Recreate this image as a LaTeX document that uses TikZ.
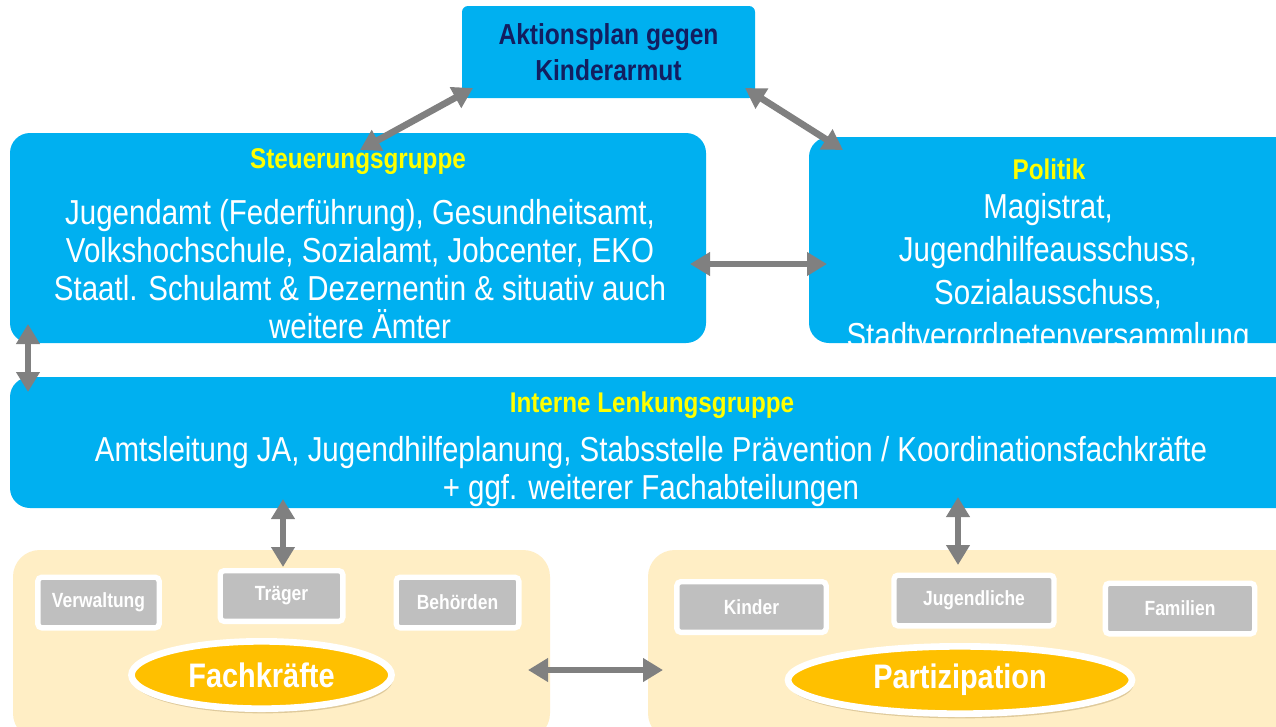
\documentclass[tikz,border=0pt]{standalone}
\usepackage{fontspec}
\setmainfont{Liberation Sans}[FakeStretch=0.85]
\usetikzlibrary{arrows.meta,shadows,shapes.geometric}
\definecolor{cblue}{RGB}{0,176,240}
\definecolor{cnavy}{RGB}{18,30,96}
\definecolor{cyel}{RGB}{255,255,0}
\definecolor{cpanel}{RGB}{255,238,197}
\definecolor{cgray}{RGB}{191,191,191}
\definecolor{corange}{RGB}{255,192,0}
\definecolor{carrow}{RGB}{128,128,128}
\definecolor{cshadow}{RGB}{150,120,60}
\begin{document}
\begin{tikzpicture}[x=0.75pt,y=-0.75pt,
  bluebox/.style={fill=cblue, draw=none, rounded corners=15pt, inner sep=0pt},
  panel/.style={fill=cpanel, draw=none, rounded corners=20pt, inner sep=0pt},
  graybox/.style={fill=cgray, draw=white, line width=4pt, rounded corners=3pt, minimum height=38pt, inner sep=0pt, text=white, font=\bfseries\fontsize{15.4}{18}\selectfont},
  oval/.style={ellipse, fill=corange, draw=white, line width=5pt, minimum height=50.5pt, inner sep=0pt, text=white, font=\bfseries\fontsize{25.5}{30}\selectfont, drop shadow={opacity=0.3, fill=cshadow, shadow xshift=1pt, shadow yshift=-3.5pt}},
  head/.style={text=cyel, inner sep=0pt, font=\bfseries\fontsize{21.4}{25}\selectfont},
  body/.style={text=white, align=center, inner sep=0pt, font=\fontsize{26}{28.5}\selectfont},
  link/.style={carrow, line width=5pt, {Triangle[width=17pt,length=15pt]}-{Triangle[width=17pt,length=15pt]}}
]
\clip (0,0) rectangle (1276,726);
\fill[white] (0,0) rectangle (1276,726);

% top box
\node[bluebox, rounded corners=4.5pt, minimum width=219.75pt, minimum height=69pt, text=cnavy, align=center, font=\bfseries\fontsize{21.7}{27}\selectfont] (aktion) at (608.5,52) {Aktionsplan gegen\\Kinderarmut};

% Steuerungsgruppe
\node[bluebox, minimum width=522pt, minimum height=157.5pt] (steu) at (358,238) {};
\node[head] (steuh) at (358,162) {Steuerungsgruppe};
\node[body] (steub) at (360,269) {Jugendamt (Federführung), Gesundheitsamt,\\Volkshochschule, Sozialamt, Jobcenter, EKO\\Staatl. Schulamt \& Dezernentin \& situativ auch\\weitere Ämter};

% Politik
\node[bluebox, minimum width=368.25pt, minimum height=154.5pt] (politik) at (1054.5,240) {};
\node[head] (politikh) at (1049,169) {Politik};
\begin{scope}
\clip[rounded corners=15pt] (politik.north west) rectangle (politik.south east);
\node[body, font=\fontsize{26}{32.3}\selectfont] (politikb) at (1048,274) {Magistrat,\\Jugendhilfeausschuss,\\Sozialausschuss,\\Stadtverordnetenversammlung};
\end{scope}

% Interne Lenkungsgruppe
\node[bluebox, minimum width=967.5pt, minimum height=98.25pt] (interne) at (655,442.5) {};
\node[head] (interneh) at (652,405) {Interne Lenkungsgruppe};
\node[body] (interneb) at (651,472) {Amtsleitung JA, Jugendhilfeplanung, Stabsstelle Prävention / Koordinationsfachkräfte\\+ ggf. weiterer Fachabteilungen};

% bottom panels
\node[panel, minimum width=402.75pt, minimum height=142.5pt] (panelL) at (281.5,645) {};
\node[panel, minimum width=489pt, minimum height=142.5pt] (panelR) at (974,645) {};

\node[graybox, minimum width=91pt] (verw) at (98.5,602.5) {Verwaltung};
\node[graybox, minimum width=92pt] (traeger) at (281.5,596) {Träger};
\node[graybox, minimum width=92pt] (behoerden) at (457.5,602.5) {Behörden};
\node[graybox, minimum width=112pt] (kinder) at (751.5,607) {Kinder};
\node[graybox, minimum width=120pt] (jugend) at (974,600.5) {Jugendliche};
\node[graybox, minimum width=112pt] (familien) at (1180,608.5) {Familien};

\node[oval, minimum width=195pt] (fach) at (261.5,675) {Fachkräfte};
\node[oval, minimum width=258pt] (parti) at (960,680) {Partizipation};

% connectors
\coordinate (s1) at (360,150);
\coordinate (a1) at (473,88);
\coordinate (a2) at (745,88);
\coordinate (p1) at (843,150);
\coordinate (s2) at (690,264);
\coordinate (p2) at (827,264);
\coordinate (s3) at (28,324);
\coordinate (i1) at (28,392);
\coordinate (i2) at (283,499);
\coordinate (t1) at (283,567);
\coordinate (i3) at (958,497);
\coordinate (j1) at (958,565);
\coordinate (l1) at (528,670);
\coordinate (r1) at (663,670);
\draw[link] (s1) -- (a1);
\draw[link] (a2) -- (p1);
\draw[link] (s2) -- (p2);
\draw[link] (s3) -- (i1);
\draw[link] (i2) -- (t1);
\draw[link] (i3) -- (j1);
\draw[link] (l1) -- (r1);
\end{tikzpicture}
\end{document}
